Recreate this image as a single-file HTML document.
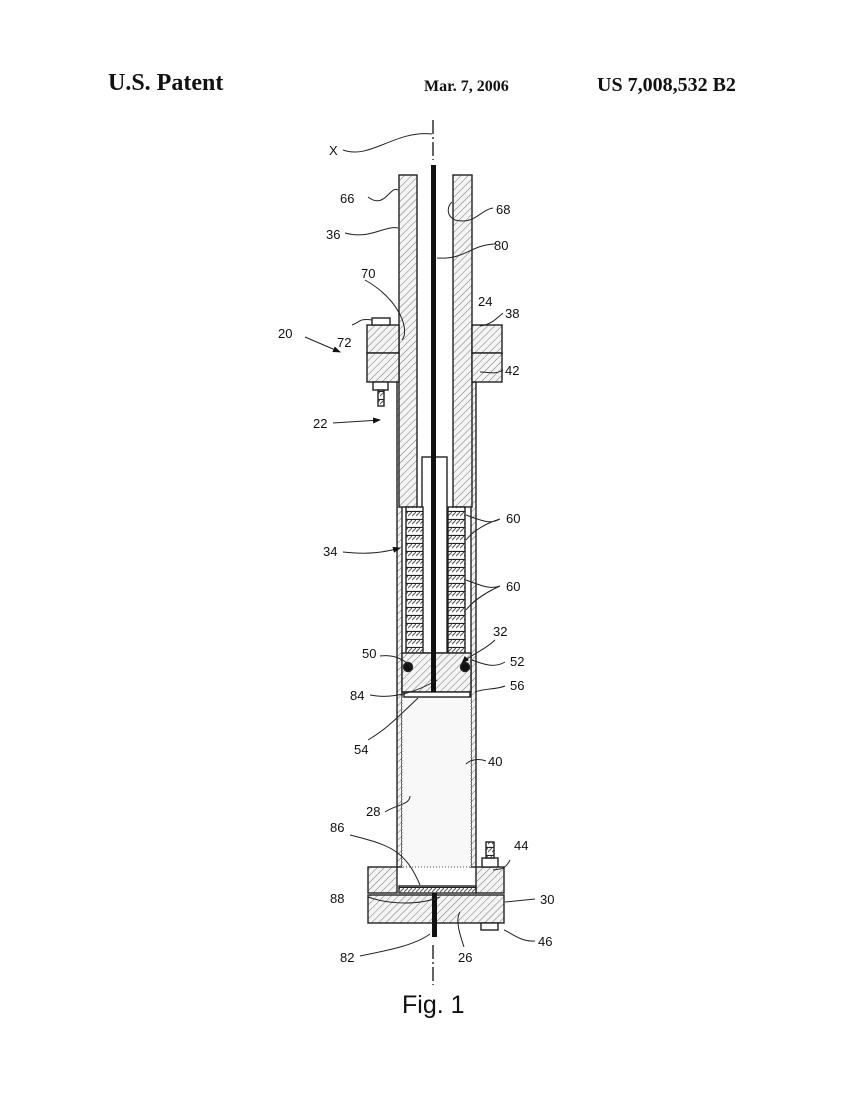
<!DOCTYPE html>
<html><head><meta charset="utf-8"><style>
html,body{margin:0;padding:0;background:#fff;}
svg{display:block;}
text{font-family:"Liberation Sans",sans-serif;fill:#111;}
.s{font-family:"Liberation Serif",serif;font-weight:bold;}
</style></head><body>
<svg width="853" height="1100" viewBox="0 0 853 1100" xmlns="http://www.w3.org/2000/svg">
<defs>
<pattern id="h" width="5" height="5" patternUnits="userSpaceOnUse" patternTransform="rotate(45)">
<rect width="5" height="5" fill="#f4f4f4"/><line x1="0" y1="0" x2="0" y2="5" stroke="#777" stroke-width="1"/></pattern>
<pattern id="hs" width="4" height="8" patternUnits="userSpaceOnUse">
<rect width="4" height="8" fill="#fff"/><line x1="0" y1="4" x2="4" y2="0" stroke="#555" stroke-width="1"/><line x1="0" y1="7.5" x2="4" y2="7.5" stroke="#222" stroke-width="1.2"/></pattern>
<marker id="a" markerWidth="8" markerHeight="8" refX="7" refY="4" orient="auto"><path d="M0,1 L8,4 L0,7 z" fill="#111"/></marker>
</defs>
<text class="s" x="108" y="90" font-size="24">U.S. Patent</text>
<text class="s" x="424" y="91" font-size="16">Mar. 7, 2006</text>
<text class="s" x="597" y="91" font-size="20">US 7,008,532 B2</text>

<g stroke="#222" stroke-width="1.4" fill="none">
<line x1="433" y1="120" x2="433" y2="160" stroke-dasharray="14,3,2,3"/>
<line x1="433" y1="945" x2="433" y2="985" stroke-dasharray="14,3,2,3"/>
<rect x="397" y="382" width="5" height="485" fill="url(#h)"/>
<rect x="471" y="382" width="5" height="485" fill="url(#h)"/>
<rect x="402" y="697" width="69" height="170" fill="#f8f8f8" stroke-dasharray="1,2" stroke="#888"/>
<rect x="399" y="175" width="18" height="332" fill="url(#h)"/>
<rect x="453" y="175" width="19" height="332" fill="url(#h)"/>
<rect x="422" y="457" width="25" height="196" fill="#fff"/>
<rect x="406" y="507" width="17" height="146" fill="url(#hs)"/>
<rect x="448" y="507" width="17" height="146" fill="url(#hs)"/>
<rect x="402" y="653" width="69" height="39" fill="url(#h)"/>
<circle cx="408" cy="667" r="4.5" fill="#111"/>
<circle cx="465" cy="667" r="4.5" fill="#111"/>
<rect x="404" y="692" width="66" height="5" fill="#fff"/>
<rect x="367" y="325" width="32" height="28" fill="url(#h)"/>
<rect x="367" y="353" width="32" height="29" fill="url(#h)"/>
<rect x="472" y="325" width="30" height="28" fill="url(#h)"/>
<rect x="472" y="353" width="30" height="29" fill="url(#h)"/>
<rect x="372" y="318" width="18" height="7" fill="#fff"/>
<rect x="373" y="382" width="15" height="8" fill="#fff"/>
<rect x="378" y="390" width="6" height="16" fill="url(#hs)"/>
<rect x="368" y="867" width="29" height="26" fill="url(#h)"/>
<rect x="476" y="867" width="28" height="26" fill="url(#h)"/>
<rect x="368" y="895" width="136" height="28" fill="url(#h)"/>
<rect x="399" y="886" width="77" height="7" fill="url(#hs)"/>
<rect x="481" y="923" width="17" height="7" fill="#fff"/>
<rect x="482" y="858" width="16" height="9" fill="#fff"/>
<rect x="486" y="842" width="8" height="16" fill="url(#hs)"/>
</g>
<rect x="431" y="165" width="5" height="527" fill="#111"/>
<rect x="432" y="893" width="5" height="44" fill="#111"/>

<g stroke="#222" stroke-width="1" fill="none">
<path d="M343 150 C370 160 395 130 432 134"/>
<path d="M368 197 C385 210 390 185 398 190"/>
<path d="M345 233 C370 240 385 225 398 228"/>
<path d="M493 208 C480 210 475 225 455 220 C445 215 448 205 452 202"/>
<path d="M495 244 C470 245 465 260 437 258"/>
<path d="M365 280 C400 300 410 330 402 340"/>
<path d="M352 325 C360 322 360 318 372 320"/>
<path d="M305 337 L340 352" marker-end="url(#a)"/>
<path d="M333 423 L380 420" marker-end="url(#a)"/>
<path d="M503 313 C495 320 490 325 480 326"/>
<path d="M503 370 C495 375 490 372 480 372"/>
<path d="M343 552 C370 555 385 552 400 548" marker-end="url(#a)"/>
<path d="M500 519 C490 525 480 520 466 515 M500 519 C480 525 470 535 466 540"/>
<path d="M500 586 C490 590 480 585 466 580 M500 586 C480 595 470 605 466 610"/>
<path d="M495 640 C485 650 470 655 462 663" marker-end="url(#a)"/>
<path d="M380 656 C395 654 405 660 412 668"/>
<path d="M370 695 C395 700 420 690 437 680"/>
<path d="M505 662 C495 668 485 665 472 660"/>
<path d="M505 686 C495 690 485 688 475 692"/>
<path d="M368 740 C385 730 395 720 418 698"/>
<path d="M486 761 C478 758 470 760 466 764"/>
<path d="M385 812 C395 805 410 805 410 796"/>
<path d="M350 835 C390 845 405 850 420 885"/>
<path d="M510 860 C505 870 500 869 493 870"/>
<path d="M535 899 L505 902"/>
<path d="M535 941 C520 942 510 932 504 930"/>
<path d="M368 897 C390 905 420 905 440 897"/>
<path d="M360 956 C390 950 415 945 430 934"/>
<path d="M464 947 C460 935 455 920 460 912"/>
</g>
<g font-size="13">
<text x="329" y="155">X</text>
<text x="340" y="203">66</text>
<text x="326" y="239">36</text>
<text x="496" y="214">68</text>
<text x="494" y="250">80</text>
<text x="361" y="278">70</text>
<text x="278" y="338">20</text>
<text x="337" y="347">72</text>
<text x="313" y="428">22</text>
<text x="478" y="306">24</text>
<text x="505" y="318">38</text>
<text x="505" y="375">42</text>
<text x="323" y="556">34</text>
<text x="506" y="523">60</text>
<text x="506" y="591">60</text>
<text x="493" y="636">32</text>
<text x="362" y="658">50</text>
<text x="510" y="666">52</text>
<text x="350" y="700">84</text>
<text x="510" y="690">56</text>
<text x="354" y="754">54</text>
<text x="488" y="766">40</text>
<text x="366" y="816">28</text>
<text x="330" y="832">86</text>
<text x="514" y="850">44</text>
<text x="330" y="903">88</text>
<text x="540" y="904">30</text>
<text x="340" y="962">82</text>
<text x="458" y="962">26</text>
<text x="538" y="946">46</text>
</g>
<text x="402" y="1013" font-size="25">Fig. 1</text>
</svg>
</body></html>
